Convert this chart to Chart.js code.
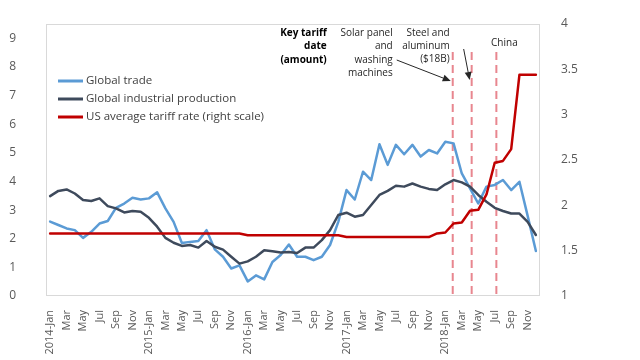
<!DOCTYPE html>
<html>
<head>
<meta charset="utf-8">
<script src="https://cdn.jsdelivr.net/npm/chart.js@4.4.1/dist/chart.umd.min.js"></script>
<style>
  html, body { margin: 0; padding: 0; background: #ffffff; }
  #wrap { width: 640px; height: 360px; }
</style>
</head>
<body>
<div id="wrap"><canvas id="chart" width="640" height="360"></canvas></div>
<script>
// ============================================================
//  DATA
// ============================================================
const years      = [2014, 2015, 2016, 2017, 2018];
const monthNames = ["Jan","Feb","Mar","Apr","May","Jun","Jul","Aug","Sep","Oct","Nov","Dec"];

// "2014-Jan", "Feb", "Mar", ... one label per month
const categories = [];
years.forEach(function (y) {
  monthNames.forEach(function (m) {
    categories.push(m === "Jan" ? y + "-Jan" : m);
  });
});

// Global trade (left scale)
const globalTrade = [
  2.60, 2.48, 2.36, 2.30, 2.03, 2.24, 2.53, 2.62, 3.08, 3.23, 3.43, 3.37,
  3.41, 3.62, 3.06, 2.59, 1.85, 1.89, 1.92, 2.30, 1.63, 1.37, 0.96, 1.07,
  0.51, 0.72, 0.58, 1.19, 1.43, 1.80, 1.37, 1.37, 1.25, 1.37, 1.78, 2.59,
  3.70, 3.37, 4.34, 4.05, 5.30, 4.58, 5.28, 4.95, 5.28, 4.87, 5.10, 4.98,
  5.39, 5.33, 4.28, 3.76, 3.23, 3.82, 3.88, 4.05, 3.70, 3.99, 2.80, 1.57
];

// Global industrial production (left scale)
const globalIndustrial = [
  3.49, 3.67, 3.72, 3.58, 3.35, 3.32, 3.41, 3.14, 3.06, 2.92, 2.97, 2.94,
  2.73, 2.42, 2.03, 1.86, 1.75, 1.78, 1.69, 1.92, 1.72, 1.62, 1.37, 1.13,
  1.21, 1.37, 1.60, 1.56, 1.52, 1.54, 1.50, 1.69, 1.69, 1.95, 2.30, 2.83,
  2.91, 2.77, 2.83, 3.18, 3.53, 3.67, 3.85, 3.82, 3.93, 3.82, 3.74, 3.70,
  3.90, 4.05, 3.97, 3.82, 3.53, 3.29, 3.08, 2.97, 2.88, 2.88, 2.59, 2.13
];

// US average tariff rate (right scale)
const usTariff = [
  1.69, 1.69, 1.69, 1.69, 1.69, 1.69, 1.69, 1.69, 1.69, 1.69, 1.69, 1.69,
  1.69, 1.69, 1.69, 1.69, 1.69, 1.69, 1.69, 1.69, 1.69, 1.69, 1.69, 1.69,
  1.67, 1.67, 1.67, 1.67, 1.67, 1.67, 1.67, 1.67, 1.67, 1.67, 1.67, 1.67,
  1.65, 1.65, 1.65, 1.65, 1.65, 1.65, 1.65, 1.65, 1.65, 1.65, 1.65, 1.69,
  1.70, 1.80, 1.81, 1.94, 1.95, 2.12, 2.47, 2.49, 2.62, 3.44, 3.44, 3.44
];

// Key tariff dates, as positions on the month axis (month index, fractional)
const tariffEvents = [48.9, 51.2, 54.2];

const seriesLabels = [
  "Global trade",
  "Global industrial production",
  "US average tariff rate (right scale)"
];
const seriesColors = ["#5b9bd5", "#3e4a5c", "#c00000"];

const FONT     = "'Open Sans', 'Noto Sans', sans-serif";
const TEXT_COL = "#595959";


// ============================================================
//  DRAWING HELPERS (border, key dates, notes, legend)
// ============================================================
function textLines(ctx, lines, x, y, lineH, align) {
  ctx.textAlign = align;
  lines.forEach(function (t, i) {
    ctx.fillText(t, x, y + i * lineH);
  });
}

function arrow(ctx, x1, y1, x2, y2) {
  var ang = Math.atan2(y2 - y1, x2 - x1);
  var len = 8, w = 3.5;
  ctx.beginPath();
  ctx.moveTo(x1, y1);
  ctx.lineTo(x2 - Math.cos(ang) * len, y2 - Math.sin(ang) * len);
  ctx.stroke();
  ctx.beginPath();
  ctx.moveTo(x2, y2);
  ctx.lineTo(x2 - Math.cos(ang) * len - Math.sin(ang) * w, y2 - Math.sin(ang) * len + Math.cos(ang) * w);
  ctx.lineTo(x2 - Math.cos(ang) * len + Math.sin(ang) * w, y2 - Math.sin(ang) * len - Math.cos(ang) * w);
  ctx.closePath();
  ctx.fill();
}

// y axes: fixed width, and no extra top/bottom room for the tick labels
function fixAxis(width) {
  return function (s) {
    s.width = width;
    s.paddingTop = 0;
    s.paddingBottom = 0;
  };
}

const extras = {
  id: "extras",
  beforeDatasetsDraw: function (chart) {
    var ctx  = chart.ctx;
    var area = chart.chartArea;
    var xs   = chart.scales.x;

    // plot area border
    ctx.save();
    ctx.strokeStyle = "#d9d9d9";
    ctx.lineWidth = 1;
    ctx.strokeRect(area.left + 0.5, area.top + 0.5, area.width - 1, area.height - 1);

    // dashed key date lines
    ctx.strokeStyle = "#e8868f";
    ctx.lineWidth = 2;
    ctx.setLineDash([8, 5]);
    tariffEvents.forEach(function (ev) {
      var px = xs.getPixelForValue(ev);
      ctx.beginPath();
      ctx.moveTo(px, area.top + 28);
      ctx.lineTo(px, area.bottom);
      ctx.stroke();
    });
    ctx.restore();
  },
  afterDraw: function (chart) {
    var ctx  = chart.ctx;
    var area = chart.chartArea;
    var xs   = chart.scales.x;
    var e1 = xs.getPixelForValue(tariffEvents[0]);
    var e2 = xs.getPixelForValue(tariffEvents[1]);
    var e3 = xs.getPixelForValue(tariffEvents[2]);
    var top = area.top;

    ctx.save();
    ctx.textBaseline = "middle";
    ctx.fillStyle = "#000000";

    // notes
    ctx.font = "bold 10px " + FONT;
    textLines(ctx, ["Key tariff", "date", "(amount)"], e1 - 126, top + 9, 13.5, "right");

    ctx.font = "10px " + FONT;
    ctx.fillStyle = "#262626";
    textLines(ctx, ["Solar panel", "and", "washing", "machines"], e1 - 60, top + 9, 13.5, "right");
    textLines(ctx, ["Steel and", "aluminum", "($18B)"], e2 - 22, top + 9, 13, "right");
    textLines(ctx, ["China"], e3 + 8, top + 19, 13, "center");

    // arrows to the first two dates
    ctx.strokeStyle = "#262626";
    ctx.fillStyle = "#262626";
    ctx.lineWidth = 1;
    arrow(ctx, e1 - 56, top + 36, e1 - 2, top + 57);
    arrow(ctx, e2 - 8, top + 25, e2 - 2, top + 56);

    // legend, top left inside the plot
    ctx.font = "11.5px " + FONT;
    ctx.textAlign = "left";
    ctx.fillStyle = "#404040";
    ctx.lineWidth = 3;
    seriesLabels.forEach(function (lab, i) {
      var ly = top + 57 + i * 18;
      ctx.strokeStyle = seriesColors[i];
      ctx.beginPath();
      ctx.moveTo(area.left + 12, ly);
      ctx.lineTo(area.left + 37, ly);
      ctx.stroke();
      ctx.fillText(lab, area.left + 40, ly);
    });
    ctx.restore();
  }
};


// ============================================================
//  CHART
// ============================================================
window.onload = function () {
  var ctx = document.getElementById("chart").getContext("2d");

  new Chart(ctx, {
    type: "line",
    data: {
      labels: categories,
      datasets: [
        {
          label: seriesLabels[0],
          data: globalTrade,
          borderColor: seriesColors[0],
          borderWidth: 2.5,
          yAxisID: "y",
          order: 2
        },
        {
          label: seriesLabels[1],
          data: globalIndustrial,
          borderColor: seriesColors[1],
          borderWidth: 2.5,
          yAxisID: "y",
          order: 1
        },
        {
          label: seriesLabels[2],
          data: usTariff,
          borderColor: seriesColors[2],
          borderWidth: 2.5,
          yAxisID: "y1",
          order: 0
        }
      ]
    },
    options: {
      responsive: false,
      animation: false,
      layout: { padding: { top: 24 } },
      elements: {
        point: { radius: 0 },
        line: { tension: 0, borderCapStyle: "round", borderJoinStyle: "round" }
      },
      plugins: {
        legend: { display: false },
        tooltip: { enabled: false }
      },
      scales: {
        x: {
          offset: true,
          grid: { display: false },
          border: { display: false },
          ticks: {
            autoSkip: false,
            minRotation: 90,
            maxRotation: 90,
            padding: 6,
            color: TEXT_COL,
            font: { family: FONT, size: 11 },
            callback: function (val, i) {
              return i % 2 === 0 ? categories[i] : "";
            }
          },
          afterFit: function (s) { s.height = 64; }
        },
        y: {
          position: "left",
          min: 0,
          max: 9.5,
          grid: { display: false },
          border: { display: false },
          ticks: {
            stepSize: 1,
            padding: 22,
            color: TEXT_COL,
            font: { family: FONT, size: 12 },
            callback: function (v) { return Number.isInteger(v) ? v : ""; }
          },
          afterFit: fixAxis(46)
        },
        y1: {
          position: "right",
          min: 1,
          max: 4,
          grid: { display: false },
          border: { display: false },
          ticks: {
            stepSize: 0.5,
            padding: 13,
            color: TEXT_COL,
            font: { family: FONT, size: 12 },
            callback: function (v) { return String(v); }
          },
          afterFit: fixAxis(100)
        }
      }
    },
    plugins: [extras]
  });
};
</script>
</body>
</html>
